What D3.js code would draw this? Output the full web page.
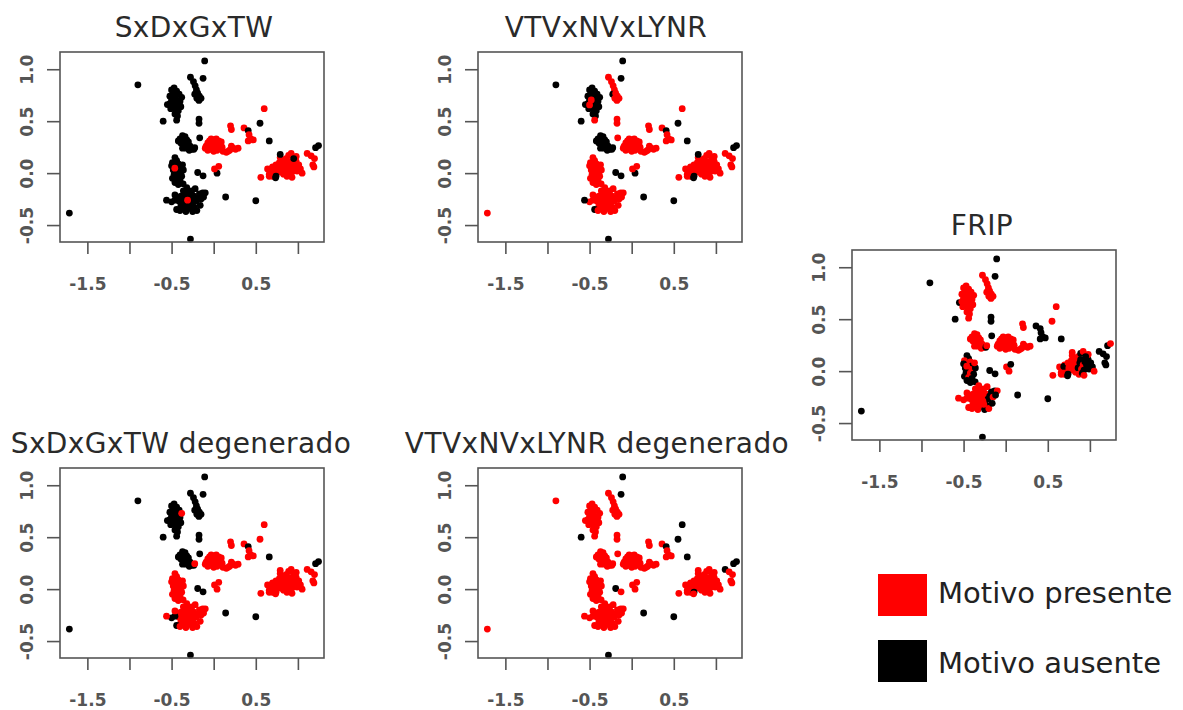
<!DOCTYPE html>
<html lang="es">

<head>
    <meta charset="UTF-8">
    <title>Motivos por grupo</title>
    <script src="https://d3js.org/d3.v7.min.js"></script>
    <style>
        body {
            margin: 0;
            background: #fff;
            font-family: "DejaVu Sans", sans-serif;
        }

        .title {
            font-size: 28px;
            fill: #2a2a2a;
            text-anchor: middle;
            letter-spacing: 0.4px;
        }

        .legend-text {
            font-size: 29px;
            fill: #222;
        }
    </style>
</head>

<body>
    <svg id="chart" width="1183" height="710"></svg>

    <script>
        // Panel titles, in the order used by the flag strings below
        const panelNames = ["SxDxGxTW", "VTVxNVxLYNR", "FRIP", "SxDxGxTW degenerado", "VTVxNVxLYNR degenerado"];

        const xTicks = [-1.5, -1, -0.5, 0, 0.5, 1];
        const xTickLabels = ["-1.5", "", "-0.5", "", "0.5", ""];
        const yTicks = [-0.5, 0, 0.5, 1];
        const yTickLabels = ["-0.5", "0.0", "0.5", "1.0"];

        const legendLabels = ["Motivo presente", "Motivo ausente"];

        // Each point: [x, y, flags]; flag i is "1" when the motif is present in panel i
        const clusterTopLeft = [
            [-0.50, 0.80, "00101"], [-0.47, 0.82, "00101"], [-0.44, 0.79, "00101"],
            [-0.48, 0.76, "00101"], [-0.52, 0.74, "00101"], [-0.45, 0.75, "00101"],
            [-0.41, 0.76, "00101"], [-0.50, 0.70, "00101"], [-0.43, 0.70, "00101"],
            [-0.40, 0.69, "00101"], [-0.46, 0.68, "00101"], [-0.55, 0.66, "00001"],
            [-0.52, 0.67, "00101"], [-0.42, 0.65, "00101"], [-0.39, 0.64, "00101"],
            [-0.48, 0.64, "00101"], [-0.51, 0.62, "00101"], [-0.45, 0.61, "00101"],
            [-0.42, 0.60, "00101"], [-0.46, 0.57, "00101"], [-0.43, 0.55, "00101"],
            [-0.44, 0.51, "01101"], [-0.48, 0.705, "01101"], [-0.50, 0.657, "01101"],
            [-0.38, 0.73, "00111"]
        ];

        const clusterColumn = [
            [-0.276, 0.923, "01101"], [-0.126, 0.913, "00000"], [-0.107, 1.08, "00000"],
            [-0.24, 0.88, "01101"], [-0.22, 0.84, "01101"], [-0.205, 0.80, "01101"],
            [-0.225, 0.76, "00101"], [-0.19, 0.77, "01101"], [-0.17, 0.74, "01101"],
            [-0.20, 0.72, "01101"], [-0.15, 0.72, "01101"], [-0.175, 0.70, "01101"],
            [-0.174, 0.52, "01001"], [-0.174, 0.48, "01001"], [-0.166, 0.34, "01001"]
        ];

        const clusterMiddle = [
            [-0.40, 0.33, "00101"], [-0.37, 0.36, "00101"], [-0.34, 0.35, "00101"],
            [-0.36, 0.31, "00101"], [-0.32, 0.32, "00101"], [-0.39, 0.29, "00101"],
            [-0.35, 0.27, "00101"], [-0.31, 0.28, "00101"], [-0.28, 0.26, "00101"],
            [-0.33, 0.24, "00101"], [-0.29, 0.22, "00101"], [-0.26, 0.23, "00101"],
            [-0.37, 0.24, "00101"], [-0.42, 0.31, "00101"], [-0.30, 0.30, "00101"],
            [-0.235, 0.23, "00001"], [-0.225, 0.245, "00111"]
        ];

        const clusterZero = [
            [-0.46, 0.15, "01011"], [-0.44, 0.12, "01011"], [-0.49, 0.10, "01111"],
            [-0.42, 0.09, "01111"], [-0.45, 0.06, "01111"], [-0.40, 0.05, "01011"],
            [-0.48, 0.03, "01011"], [-0.43, 0.02, "01111"], [-0.39, 0.01, "01111"],
            [-0.36, 0.03, "01011"], [-0.47, -0.01, "01011"], [-0.42, -0.02, "01111"],
            [-0.38, -0.03, "01011"], [-0.49, -0.05, "01011"], [-0.44, -0.06, "01111"],
            [-0.40, -0.07, "01011"], [-0.46, -0.09, "01011"], [-0.42, -0.11, "01011"],
            [-0.363, -0.103, "01011"], [-0.37, 0.08, "01111"], [-0.50, 0.07, "01011"],
            [-0.462, 0.048, "11111"]
        ];

        const clusterBottom = [
            [-0.35, -0.25, "01111"], [-0.27, -0.25, "01111"], [-0.33, -0.21, "01111"],
            [-0.28, -0.21, "01111"], [-0.38, -0.22, "01111"], [-0.24, -0.22, "01111"],
            [-0.36, -0.29, "01111"], [-0.30, -0.30, "01111"], [-0.25, -0.29, "01111"],
            [-0.41, -0.27, "01111"], [-0.21, -0.27, "01011"], [-0.34, -0.33, "01111"],
            [-0.28, -0.34, "01111"], [-0.23, -0.33, "01011"], [-0.39, -0.32, "01111"],
            [-0.31, -0.18, "01111"], [-0.26, -0.17, "01111"], [-0.36, -0.17, "01111"],
            [-0.42, -0.23, "01111"], [-0.19, -0.24, "01011"], [-0.17, -0.20, "01011"],
            [-0.13, -0.19, "01011"], [-0.10, -0.19, "01111"], [-0.15, -0.25, "01111"],
            [-0.12, -0.23, "01011"], [-0.46, -0.26, "01101"], [-0.50, -0.276, "01101"],
            [-0.56, -0.26, "00111"], [-0.44, -0.35, "00101"], [-0.40, -0.36, "01111"],
            [-0.33, -0.37, "01111"], [-0.25, -0.37, "01011"], [-0.20, -0.36, "01111"],
            [-0.16, -0.31, "01011"], [-0.32, -0.14, "01111"], [-0.22, -0.15, "01111"],
            [-0.46, -0.21, "01111"], [-0.30, -0.23, "01111"], [-0.27, -0.29, "01111"],
            [-0.34, -0.28, "01111"], [-0.26, -0.32, "01111"], [-0.37, -0.26, "01111"],
            [-0.29, -0.27, "01111"], [-0.31, -0.26, "11111"]
        ];

        const clusterCentre = [
            [-0.09, 0.26, "11111"], [-0.07, 0.29, "11111"], [-0.05, 0.31, "11111"],
            [-0.03, 0.33, "11111"], [0.00, 0.32, "11111"], [0.03, 0.33, "11111"],
            [0.06, 0.31, "11111"], [0.09, 0.30, "11111"], [-0.05, 0.25, "11111"],
            [-0.02, 0.27, "11111"], [0.02, 0.28, "11111"], [0.05, 0.26, "11111"],
            [0.08, 0.27, "11111"], [-0.07, 0.22, "11111"], [-0.03, 0.23, "11111"],
            [0.01, 0.24, "11111"], [0.04, 0.22, "11111"], [0.10, 0.25, "11111"],
            [-0.10, 0.24, "11111"], [0.00, 0.21, "11111"],
            [0.11, 0.21, "11111"], [0.15, 0.20, "11111"], [0.17, 0.21, "11111"],
            [0.19, 0.22, "11111"], [0.21, 0.26, "11111"], [0.23, 0.24, "11111"],
            [0.26, 0.23, "11111"], [0.29, 0.24, "11111"]
        ];

        const clusterUpperRight = [
            [0.20, 0.455, "11111"], [0.21, 0.42, "11111"], [0.36, 0.435, "11011"],
            [0.41, 0.41, "00000"], [0.42, 0.37, "11011"], [0.41, 0.31, "11011"],
            [0.44, 0.33, "11011"], [0.47, 0.32, "11011"],
            [0.66, 0.31, "00000"], [0.55, 0.48, "00110"], [0.60, 0.62, "11110"]
        ];

        const clusterRight = [
            [0.56, -0.04, "11111"], [0.66, -0.03, "11111"], [0.64, 0.04, "11111"],
            [0.68, 0.02, "11111"], [0.66, -0.01, "11111"], [0.70, 0.06, "11111"],
            [0.70, -0.03, "11111"], [0.72, 0.00, "11111"], [0.69, 0.045, "11011"],
            [0.74, 0.08, "11111"], [0.75, 0.03, "11111"], [0.76, 0.06, "11111"],
            [0.78, 0.10, "11111"], [0.79, 0.01, "11111"], [0.79, 0.15, "11111"],
            [0.80, 0.06, "11111"], [0.82, 0.12, "11111"], [0.82, 0.03, "11111"],
            [0.83, -0.01, "11111"], [0.84, 0.07, "11111"], [0.85, 0.10, "11111"],
            [0.86, 0.14, "11111"], [0.86, 0.03, "11011"], [0.87, -0.03, "11111"],
            [0.88, 0.08, "11011"], [0.89, 0.11, "11011"], [0.89, 0.17, "11011"],
            [0.90, 0.02, "11111"], [0.91, -0.02, "11011"], [0.92, 0.06, "11111"],
            [0.92, 0.19, "11111"], [0.93, 0.01, "11011"], [0.93, -0.04, "11111"],
            [0.94, 0.09, "11011"], [0.96, 0.06, "11011"], [0.98, 0.11, "11011"],
            [0.98, 0.16, "11111"], [0.99, 0.02, "11011"], [1.01, 0.08, "11011"],
            [1.03, 0.04, "11011"], [1.05, 0.00, "11111"],
            [0.79, 0.18, "00111"], [0.95, 0.14, "01011"],
            [0.74, -0.03, "00010"], [0.735, -0.045, "00011"]
        ];

        const clusterFarRight = [
            [1.11, 0.19, "11010"], [1.157, 0.167, "11011"], [1.177, 0.08, "11011"],
            [1.197, 0.14, "11011"], [1.19, 0.06, "11011"], [1.21, 0.245, "00000"],
            [1.245, 0.265, "00100"]
        ];

        const scattered = [
            [-0.60, 0.50, "00000"], [-0.90, 0.85, "00001"], [-1.714, -0.385, "01001"],
            [-0.276, -0.635, "00000"], [-0.19, 0.006, "00000"], [-0.126, -0.026, "00001"],
            [0.142, -0.23, "00000"], [0.50, -0.266, "00000"], [0.04, 0.0, "00111"],
            [0.01, 0.04, "11111"], [0.06, 0.065, "11011"]
        ];

        const points = [].concat(clusterTopLeft, clusterColumn, clusterMiddle, clusterZero,
            clusterBottom, clusterCentre, clusterUpperRight, clusterRight, clusterFarRight, scattered);

        const presentColor = "#ff0000";
        const absentColor = "#000000";

        // Where each plot box sits on the page
        const panels = [
            { left: 60, top: 52, titleX: 194, titleY: 37 },
            { left: 478, top: 52, titleX: 606, titleY: 37 },
            { left: 852, top: 250, titleX: 982, titleY: 235 },
            { left: 60, top: 468, titleX: 181, titleY: 453 },
            { left: 478, top: 468, titleX: 597, titleY: 453 }
        ];
        const boxWidth = 264;
        const boxHeight = 190;

        const svg = d3.select("#chart");

        const x = d3.scaleLinear().domain([-1.825, 1.31]).range([0, boxWidth]);
        const y = d3.scaleLinear().domain([-0.663, 1.166]).range([boxHeight, 0]);

        panels.forEach((p, i) => {
            svg.append("text")
                .attr("class", "title")
                .attr("x", p.titleX)
                .attr("y", p.titleY)
                .text(panelNames[i]);

            const g = svg.append("g").attr("transform", `translate(${p.left},${p.top})`);

            // x axis
            const xAxis = g.append("g")
                .attr("transform", `translate(0,${boxHeight})`)
                .call(d3.axisBottom(x).tickValues(xTicks).tickSize(12).tickSizeOuter(0)
                    .tickFormat((d, k) => xTickLabels[k]));
            xAxis.select(".domain").remove();
            xAxis.selectAll(".tick line").attr("stroke", "#555").attr("stroke-width", 1.6);
            xAxis.selectAll(".tick text")
                .attr("y", 48).attr("dy", null)
                .style("font-family", "DejaVu Sans").style("font-size", "17px")
                .style("font-weight", "bold").attr("fill", "#555");

            // y axis, labels turned like R does
            const yAxis = g.append("g")
                .call(d3.axisLeft(y).tickValues(yTicks).tickSize(13).tickSizeOuter(0)
                    .tickFormat((d, k) => yTickLabels[k]));
            yAxis.select(".domain").remove();
            yAxis.selectAll(".tick line").attr("stroke", "#555").attr("stroke-width", 1.6);
            yAxis.selectAll(".tick text")
                .attr("x", null).attr("dy", null)
                .attr("text-anchor", "middle")
                .attr("transform", "translate(-27,0) rotate(-90)")
                .style("font-family", "DejaVu Sans").style("font-size", "17px")
                .style("font-weight", "bold").attr("fill", "#555");

            g.selectAll("circle")
                .data(points)
                .join("circle")
                .attr("cx", d => x(d[0]))
                .attr("cy", d => y(d[1]))
                .attr("r", 3.4)
                .attr("fill", d => d[2][i] === "1" ? presentColor : absentColor);

            g.append("rect")
                .attr("width", boxWidth)
                .attr("height", boxHeight)
                .attr("fill", "none")
                .attr("stroke", "#555")
                .attr("stroke-width", 1.6);
        });

        // Legend
        const legend = svg.append("g").attr("transform", "translate(878,574)");
        legendLabels.forEach((label, i) => {
            legend.append("rect")
                .attr("x", 0)
                .attr("y", i * 66)
                .attr("width", 49)
                .attr("height", 42)
                .attr("fill", i === 0 ? presentColor : absentColor);
            legend.append("text")
                .attr("class", "legend-text")
                .attr("x", 60)
                .attr("y", i * 70 + 29)
                .text(label);
        });
    </script>
</body>

</html>
